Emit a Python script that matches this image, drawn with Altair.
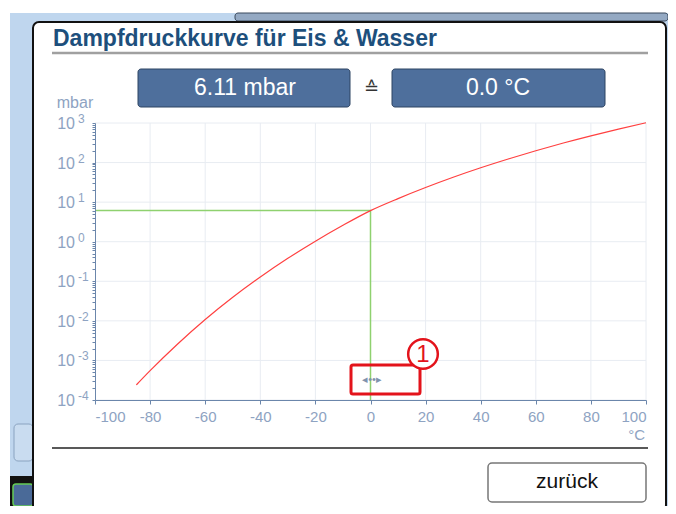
import altair as alt
import pandas as pd

# ---- data ----
temps_c = [-85, -80, -70, -60, -50, -40, -30, -20, -10, 0, 10, 20, 30, 40, 50, 60, 70, 80, 90, 100]
pressure_mbar = [0.00024, 0.00055, 0.0026, 0.0108, 0.0394, 0.128, 0.38, 1.03, 2.6, 6.11,
                 12.3, 23.4, 42.5, 73.8, 123, 199, 312, 474, 701, 1013]
cross_t = [-100, 0, 0]
cross_p = [6.11, 6.11, 0.0001]
cross_order = [0, 1, 2]
x_ticks = [-100, -80, -60, -40, -20, 0, 20, 40, 60, 80, 100]
y_exponents = [3, 2, 1, 0, -1, -2, -3, -4]
title_text = "Dampfdruckkurve für Eis & Wasser"
value_p = "6.11 mbar"
value_t = "0.0 °C"

FONT = "Liberation Sans"
AXIS_COL = "#6b86ab"
LABEL_COL = "#8ea3c2"
GRID_COL = "#e8ecf2"

W, H = 551, 277
OX, OY = 95, 123  # page position of plot origin


def px(x):
    return x - OX


def py(y):
    return y - OY


one = pd.DataFrame({"d": [0]})

x_scale = alt.Scale(domain=[-100, 100], nice=False)
y_scale = alt.Scale(type="log", domain=[0.0001, 1000], nice=False)
x_axis = alt.Axis(values=x_ticks, title=None, grid=False, labelFlush=True,
                  labelExpr="'' + datum.value",
                  domainColor=AXIS_COL, tickColor=AXIS_COL, tickSize=4,
                  labelColor=LABEL_COL, labelFont=FONT, labelFontSize=15,
                  labelPadding=5, zindex=1)
minor = [k * 10.0 ** n for n in range(-4, 3) for k in range(1, 10)] + [1000.0]
y_axis = alt.Axis(values=minor, title=None, grid=False, labels=False,
                  domainColor=AXIS_COL, tickColor=AXIS_COL, tickSize=3, zindex=1)


def X(field):
    return alt.X(field, type="quantitative", scale=x_scale, axis=x_axis)


def Y(field):
    return alt.Y(field, type="quantitative", scale=y_scale, axis=y_axis)


def box(x1, y1, x2, y2, **mark):
    return alt.Chart(one).mark_rect(**mark).encode(
        x=alt.value(px(x1)), x2=alt.value(px(x2)),
        y=alt.value(py(y1)), y2=alt.value(py(y2)))


def label(x, y, text, **mark):
    opts = dict(font=FONT, baseline="middle", align="center")
    opts.update(mark)
    return alt.Chart(one).mark_text(text=text, **opts).encode(
        x=alt.value(px(x)), y=alt.value(py(y)))


def hline(x1, x2, y, color, width):
    return alt.Chart(one).mark_rule(color=color, strokeWidth=width).encode(
        x=alt.value(px(x1)), x2=alt.value(px(x2)), y=alt.value(py(y)))


curve = pd.DataFrame({"t": temps_c, "p": pressure_mbar})
cross = pd.DataFrame({"t": cross_t, "p": cross_p, "o": cross_order})
xgrid = pd.DataFrame({"t": x_ticks[1:]})
ylab = pd.DataFrame({"p": [10.0 ** e for e in y_exponents],
                     "e": [str(e) for e in y_exponents]})

layers = [
    # background chrome
    box(10, 13, 668, 506, color="#bfd6ee"),
    box(235, 13, 668, 21, color="#94a9c3", stroke="#3b4a5e", strokeWidth=1, cornerRadius=3),
    box(10, 476, 33, 506, color="#111111"),
    box(13, 484, 33, 506, color="#4a6a98", stroke="#66cc55", strokeWidth=1.5, cornerRadius=3),
    box(14, 424, 33, 461, color="#c9dcf0", stroke="#8aa3c0", strokeWidth=1, cornerRadius=4),
    # dialog
    box(33, 22, 666, 511, color="white", stroke="#111111", strokeWidth=2, cornerRadius=6),
    label(53, 39, title_text, align="left", fontSize=23, fontWeight="bold", color="#1d4f7c"),
    hline(52, 648, 53, "#a0a0a0", 2.5),
    box(138, 69, 350, 107, color="#4e6f9c", stroke="#2d4463", strokeWidth=1, cornerRadius=3),
    box(392, 69, 605, 107, color="#4e6f9c", stroke="#2d4463", strokeWidth=1, cornerRadius=3),
    label(245, 88, value_p, fontSize=23, color="white"),
    label(498, 88, value_t, fontSize=23, color="white"),
    label(371, 89, "≙", fontSize=18, color="#333333"),
    label(75, 103, "mbar", fontSize=16, color=LABEL_COL),
    # grid
    alt.Chart(xgrid).mark_rule(color=GRID_COL, strokeWidth=1).encode(x=X("t")),
    alt.Chart(ylab).mark_rule(color=GRID_COL, strokeWidth=1).encode(y=Y("p")),
    # y labels 10^n
    alt.Chart(ylab).mark_text(text="10", font=FONT, fontSize=16, color=LABEL_COL,
                              align="right", baseline="middle", dy=1).encode(
        y=Y("p"), x=alt.value(-20)),
    alt.Chart(ylab).mark_text(font=FONT, fontSize=12, color=LABEL_COL,
                              align="left", baseline="middle", dy=-4).encode(
        y=Y("p"), x=alt.value(-17), text="e:N"),
    # data
    alt.Chart(cross).mark_line(color="#8fd16f", strokeWidth=1.5).encode(
        x=X("t"), y=Y("p"), order="o:Q"),
    alt.Chart(curve).mark_line(color="#ff4040", strokeWidth=1.2, interpolate="monotone").encode(
        x=X("t"), y=Y("p")),
    # annotation
    box(351, 365, 420, 394, fill=None, filled=False, stroke="#e3131b", strokeWidth=3, cornerRadius=2),
    label(372, 380, "◂••▸", fontSize=11, color="#7f93ad"),
    alt.Chart(one).mark_point(shape="circle", size=880, fill="white", fillOpacity=1,
                              stroke="#e3131b", strokeWidth=2.5, opacity=1).encode(
        x=alt.value(px(423)), y=alt.value(py(354))),
    label(423, 355, "1", fontSize=24, color="#e3131b"),
    label(645, 435, "°C", align="right", fontSize=15, color=LABEL_COL),
    # footer
    hline(52, 648, 448, "#222222", 1.5),
    box(488, 463, 646, 502, color="white", stroke="#777777", strokeWidth=1.5, cornerRadius=4),
    label(567, 482, "zurück", fontSize=21, color="#111111"),
]

chart = alt.layer(*layers).properties(
    width=W, height=H,
    autosize=alt.AutoSizeParams(type="none"),
    padding={"left": 87, "top": 115, "right": 22, "bottom": 106},
    background="white",
).configure_view(stroke=None)

chart.save("out.html", embed_options={"renderer": "svg", "actions": False})
